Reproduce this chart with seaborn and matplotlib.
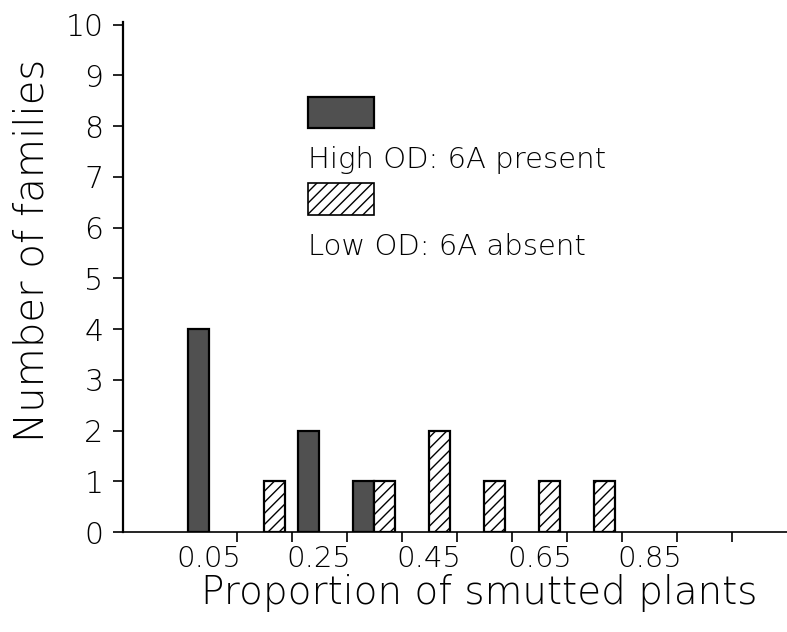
import matplotlib
matplotlib.use("Agg")
import matplotlib.pyplot as plt
from matplotlib.patches import Rectangle
import pandas as pd
import seaborn as sns

# Histogram bins (centre of each 0.1-wide class) and family counts per group
high_bins = [0.05, 0.25, 0.35]
high_counts = [4, 2, 1]
low_bins = [0.15, 0.35, 0.45, 0.55, 0.65, 0.75]
low_counts = [1, 1, 2, 1, 1, 1]

groups = ["High OD: 6A present", "Low OD: 6A absent"]
xtick_labels = ["0.05", "0.25", "0.45", "0.65", "0.85"]
xtick_pos = [0.05, 0.25, 0.45, 0.65, 0.85]
edge_ticks = [0.1, 0.2, 0.3, 0.4, 0.5, 0.6, 0.7, 0.8, 0.9, 1.0]

df = pd.DataFrame({
    "prop": high_bins + low_bins,
    "n": high_counts + low_counts,
    "group": [groups[0]] * len(high_bins) + [groups[1]] * len(low_bins),
})

sns.set_theme(style="ticks")
plt.rcParams["font.family"] = ["DejaVu Sans"]
plt.rcParams.update({
    "hatch.linewidth": 1.0,
    "text.color": "black",
    "axes.labelcolor": "black",
    "axes.edgecolor": "black",
    "xtick.color": "black",
    "ytick.color": "black",
})
WEIGHT = "light"

fig = plt.figure(figsize=(7.87, 6.32), dpi=100)
ax = fig.add_axes([0.156, 0.158, 0.844, 0.807])

DARK = "#505050"
sns.barplot(data=df, x="prop", y="n", hue="group", hue_order=groups,
            palette=[DARK, "white"], native_scale=True, width=0.76,
            dodge=True, errorbar=None, legend=False, ax=ax,
            edgecolor="black", linewidth=1.6)

for bar in ax.containers[1]:
    bar.set_hatch("///")

ax.set_xlim(-0.107, 1.1)
ax.set_ylim(0, 10.05)

# tick marks on class edges, labels on selected class centres
ax.set_xticks(edge_ticks)
ax.set_xticklabels([])
ax.set_xticks(xtick_pos, minor=True)
ax.set_xticklabels(xtick_labels, minor=True, fontsize=21, fontweight=WEIGHT)
ax.tick_params(axis="x", which="major", length=7, width=1.2, direction="out")
ax.tick_params(axis="x", which="minor", length=0, pad=9)
ax.set_yticks(range(0, 11))
ax.tick_params(axis="y", length=7, width=1.2, direction="out", pad=7,
               labelsize=21.5)
for lab in ax.get_yticklabels():
    lab.set_fontweight(WEIGHT)

for side in ("top", "right"):
    ax.spines[side].set_visible(False)
ax.spines["left"].set_linewidth(1.6)
ax.spines["bottom"].set_linewidth(1.2)

ax.set_xlabel("Proportion of smutted plants", fontsize=28, fontweight=WEIGHT)
ax.set_ylabel("Number of families", fontsize=29, fontweight=WEIGHT)
ax.xaxis.set_label_coords(0.537, -0.082)
ax.yaxis.set_label_coords(-0.108, 0.553)

# key: swatch above each label
ax.add_patch(Rectangle((0.279, 0.792), 0.099, 0.061, transform=ax.transAxes,
                       facecolor=DARK, edgecolor="black", linewidth=1.6))
ax.text(0.279, 0.7137, groups[0], transform=ax.transAxes, fontsize=21,
        fontweight=WEIGHT, va="baseline", ha="left")
ax.add_patch(Rectangle((0.279, 0.622), 0.099, 0.062, transform=ax.transAxes,
                       facecolor="white", edgecolor="black", linewidth=1.2,
                       hatch="///"))
ax.text(0.279, 0.543, groups[1], transform=ax.transAxes, fontsize=21,
        fontweight=WEIGHT, va="baseline", ha="left")

fig.savefig("out.png", dpi=100)
